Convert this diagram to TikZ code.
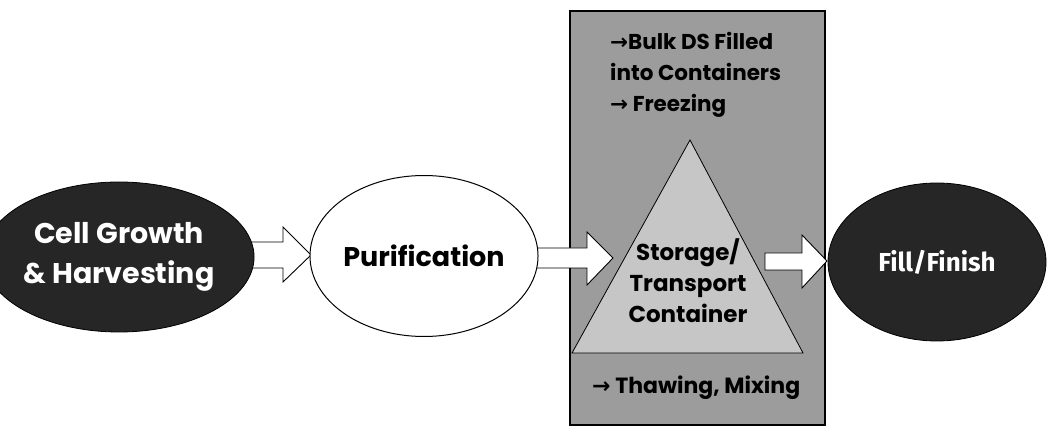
\documentclass[tikz,border=0pt]{standalone}
\usepackage{fontspec}
\setmainfont{Poppins}
\newfontfamily\ffont{Fira Sans}
\newfontfamily\symfont{DejaVu Sans}
\usetikzlibrary{shapes.geometric}
\definecolor{darkfill}{HTML}{262626}
\definecolor{boxgrey}{HTML}{9C9C9C}
\definecolor{trigrey}{HTML}{C6C6C6}
\newcommand{\rarr}{{\symfont\bfseries →}}
\tikzset{
  darkell/.style={ellipse, draw=black, line width=0.8pt, fill=darkfill, inner sep=0pt, outer sep=0pt, text=white, font=\fontsize{28.5}{40}\selectfont\bfseries, align=center},
  whiteell/.style={ellipse, draw=black, line width=1pt, fill=white, inner sep=0pt, outer sep=0pt, font=\fontsize{27}{40}\selectfont\bfseries},
  blockarrow/.style={draw=black, line width=0.9pt, fill=white, line join=miter},
  boxtext/.style={font=\fontsize{21.5}{31}\selectfont\bfseries, align=left, inner sep=0pt},
}
\begin{document}
\begin{tikzpicture}[x=1pt,y=-1pt]
\useasboundingbox (0,0) rectangle (1047,430);
% grey box
\node[draw=black, line width=1.1pt, fill=boxgrey, minimum width=255pt, minimum height=414pt, inner sep=0pt, outer sep=0pt, anchor=north west] (box) at (570,11) {};
% triangle
\coordinate (apex) at (690,140);
\coordinate (bl) at (572,353);
\coordinate (br) at (803,353);
\draw[fill=trigrey, line width=0.8pt, line join=miter] (apex) -- (br) -- (bl) -- cycle;
\node[font=\fontsize{23}{31}\selectfont\bfseries, align=center, inner sep=0pt] (stor) at (688,281) {Storage/\\Transport\\Container};
% box texts
\node[boxtext, anchor=north west] (top) at (610,32) {\rarr Bulk DS Filled\\into Containers\\\rarr\ Freezing};
\node[boxtext, font=\fontsize{22}{31}\selectfont\bfseries, anchor=west] (bot) at (592,388) {\rarr\ Thawing, Mixing};
% arrows
\draw[blockarrow] (225,242) -- (283,242) -- (283,227) -- (311,255) -- (283,282) -- (283,268) -- (225,268);
\draw[blockarrow] (525,248) -- (587,248) -- (587,232) -- (613,258) -- (587,285) -- (587,268) -- (525,268);
\draw[blockarrow] (765,253) -- (802,253) -- (802,235) -- (827,261) -- (802,288) -- (802,270) -- (765,270) -- cycle;
% ellipses
\node[darkell, minimum width=228pt, minimum height=150pt] (cell) at (119,257) {Cell Growth\\\& Harvesting};
\node[whiteell, minimum width=227pt, minimum height=161pt] (pur) at (424,256) {Purification};
\node[darkell, minimum width=218pt, minimum height=158pt, font=\ffont\fontsize{26}{30}\selectfont\bfseries] (fill) at (937,262) {Fill/Finish};
\end{tikzpicture}
\end{document}
